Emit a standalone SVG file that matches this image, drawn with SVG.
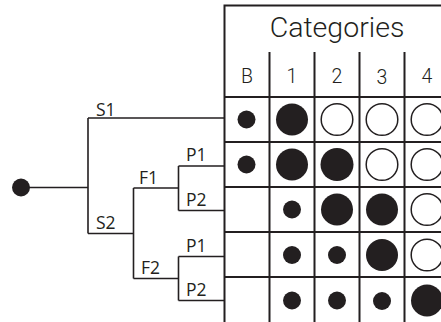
<svg xmlns="http://www.w3.org/2000/svg" width="441" height="322" viewBox="0 0 441 322">
<style>
.ln{stroke:#231f20;stroke-width:1.6;fill:none}
.gr{stroke:#231f20;stroke-width:2;fill:none}
.f{fill:#231f20}
.o{fill:#fff;stroke:#231f20;stroke-width:1.5}
.tl{font-family:"Open Sans","Noto Sans",sans-serif;font-size:17.5px;fill:#231f20}
.hd{font-family:Roboto,"Liberation Sans",sans-serif;fill:#231f20;text-anchor:middle;font-weight:300}
</style>
<rect width="441" height="322" fill="#fff"/>
<g id="grid">
<path class="gr" d="M224.5 322V5.5H441M224.5 97H441M224.5 142H441M224.5 187H441M224.5 232H441M224.5 277H441M269.5 52V322M314.5 52V322M359.5 52V322M404.5 52V322"/>
<text class="hd" x="337" y="37.3" font-size="28.5">Categories</text>
<text class="hd" x="247" y="83" font-size="19.5">B</text>
<text class="hd" x="292" y="83" font-size="19.5">1</text>
<text class="hd" x="337" y="83" font-size="19.5">2</text>
<text class="hd" x="382" y="84" font-size="19.5">3</text>
<text class="hd" x="427" y="83" font-size="19.5">4</text>
</g>
<g id="cells">
<circle class="f" cx="246.5" cy="119.5" r="9"/>
<circle class="f" cx="292" cy="119.5" r="16"/>
<circle class="o" cx="337" cy="119.5" r="15.8"/>
<circle class="o" cx="382" cy="119.5" r="15.8"/>
<circle class="o" cx="427" cy="119.5" r="15.8"/>
<circle class="f" cx="246.5" cy="164.5" r="9"/>
<circle class="f" cx="292" cy="164.5" r="16"/>
<circle class="f" cx="337" cy="164.5" r="16.5"/>
<circle class="o" cx="382" cy="164.5" r="15.8"/>
<circle class="o" cx="427" cy="164.5" r="15.8"/>
<circle class="f" cx="292" cy="209.5" r="9"/>
<circle class="f" cx="337" cy="209.5" r="16"/>
<circle class="f" cx="382" cy="209.5" r="16"/>
<circle class="o" cx="427" cy="209.5" r="15.8"/>
<circle class="f" cx="292" cy="255" r="9"/>
<circle class="f" cx="337" cy="255" r="9"/>
<circle class="f" cx="382" cy="255" r="16"/>
<circle class="o" cx="427" cy="255" r="15.8"/>
<circle class="f" cx="292" cy="300.5" r="9"/>
<circle class="f" cx="337" cy="300.5" r="9"/>
<circle class="f" cx="382" cy="301" r="9"/>
<circle class="f" cx="427" cy="300.5" r="16"/>
</g>
<g id="connectors">
<path class="ln" d="M21 187.5H88M88 118V233.5M88 118H224.5M88 233.5H133.5M133.5 188V278.5M133.5 188H178.5M133.5 278.5H178.5M178.5 166V210.5M178.5 166H224.5M178.5 210.5H224.5M178.5 256.5V300.5M178.5 256.5H224.5M178.5 300.5H224.5"/>
</g>
<g id="root"><circle class="f" cx="21" cy="187.5" r="9"/></g>
<g id="labels">
<text class="tl" x="96" y="116">S1</text>
<text class="tl" x="96" y="228.5">S2</text>
<text class="tl" x="139" y="183.5">F1</text>
<text class="tl" x="141" y="273.5">F2</text>
<text class="tl" x="186" y="161">P1</text>
<text class="tl" x="186" y="205.5">P2</text>
<text class="tl" x="186" y="251.5">P1</text>
<text class="tl" x="186" y="295.5">P2</text>
</g>
</svg>
